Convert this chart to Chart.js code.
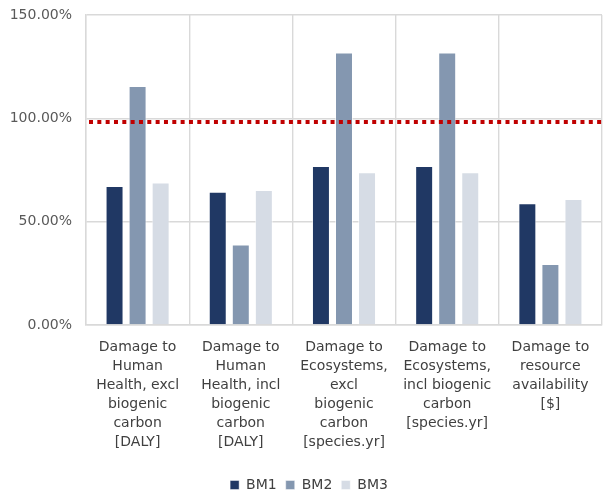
<!DOCTYPE html>
<html>
<head>
<meta charset="utf-8">
<script src="https://cdn.jsdelivr.net/npm/chart.js@4/dist/chart.umd.min.js"></script>
<style>
  html, body { margin: 0; padding: 0; background: #ffffff; }
  #wrap { width: 603px; height: 493px; position: relative; }
</style>
</head>
<body>
<div id="wrap"><canvas id="chart"></canvas></div>
<script>
// Impact categories (multi-line axis labels)
const categories = [
  ["Damage to", "Human", "Health, excl", "biogenic", "carbon", "[DALY]"],
  ["Damage to", "Human", "Health, incl", "biogenic", "carbon", "[DALY]"],
  ["Damage to", "Ecosystems,", "excl", "biogenic", "carbon", "[species.yr]"],
  ["Damage to", "Ecosystems,", "incl biogenic", "carbon", "[species.yr]"],
  ["Damage to", "resource", "availability", "[$]"]
];

// Relative scores in percent
const bm1 = [67.2, 64.5, 76.9, 76.9, 58.9];
const bm2 = [115.6, 39.0, 131.9, 131.9, 29.5];
const bm3 = [68.9, 65.3, 73.9, 73.9, 61.0];

// Reference level, drawn as a dotted line across the whole plot
const referenceLevel = 98.2;

// Value axis ticks
const yTicks = [0, 50, 100, 150];

const seriesNames = ["BM1", "BM2", "BM3"];
const seriesColors = ["#203864", "#8497b0", "#d6dce5"];

const FONT = "'DejaVu Sans', sans-serif";
const GRID = "#d9d9d9";

// Horizontal dotted reference line positioned with the y scale
const referenceLinePlugin = {
  id: "referenceLine",
  afterDatasetsDraw(chart) {
    const { ctx, chartArea, scales } = chart;
    const y = scales.y.getPixelForValue(referenceLevel);
    ctx.save();
    ctx.strokeStyle = "#c00000";
    ctx.lineWidth = 4;
    ctx.lineCap = "butt";
    ctx.setLineDash([4, 4.33]);
    ctx.lineDashOffset = 5.33;
    ctx.beginPath();
    ctx.moveTo(chartArea.left, y);
    ctx.lineTo(chartArea.right, y);
    ctx.stroke();
    ctx.restore();
  }
};

// Nudge the legend row so it sits centred under the plot area
const legendShiftPlugin = {
  id: "legendShift",
  afterLayout(chart) {
    if (chart.legend) {
      chart.legend.left += 8;
      chart.legend.right += 8;
    }
  }
};

const barSets = [bm1, bm2, bm3].map((vals, i) => ({
  label: seriesNames[i],
  data: vals,
  backgroundColor: seriesColors[i],
  borderColor: "rgba(255,255,255,0.6)",
  borderWidth: { top: 1, left: 1, right: 1, bottom: 0 },
  categoryPercentage: 0.67,
  barPercentage: 0.78
}));

new Chart(document.getElementById("chart"), {
  type: "bar",
  data: {
    labels: categories,
    datasets: barSets
  },
  plugins: [referenceLinePlugin, legendShiftPlugin],
  options: {
    responsive: true,
    maintainAspectRatio: false,
    animation: false,
    layout: { padding: { top: 15, right: 1, left: 0, bottom: -9 } },
    plugins: {
      tooltip: { enabled: false },
      legend: {
        position: "bottom",
        labels: {
          boxWidth: 9,
          boxHeight: 9,
          padding: 9,
          color: "#404040",
          font: { family: FONT, size: 14 }
        }
      }
    },
    scales: {
      x: {
        offset: true,
        grid: { display: true, offset: true, color: GRID, lineWidth: 1.4, drawTicks: false },
        border: { display: true, color: GRID, width: 1.4 },
        ticks: {
          maxRotation: 0,
          minRotation: 0,
          autoSkip: false,
          padding: 13,
          color: "#404040",
          font: { family: FONT, size: 14, lineHeight: 1.36 }
        },
        afterFit: s => { s.height = 144; }
      },
      y: {
        min: 0,
        max: 150,
        afterBuildTicks: s => { s.ticks = yTicks.map(v => ({ value: v })); },
        grid: { color: GRID, lineWidth: 1.4, drawTicks: false },
        border: { display: true, color: GRID, width: 1.4 },
        ticks: {
          padding: 14,
          color: "#595959",
          font: { family: FONT, size: 14 },
          callback: v => v.toFixed(2) + "%"
        },
        afterFit: s => {
          s.width = 86;
          s.paddingTop = 0;
          s.paddingBottom = 0;
        }
      }
    }
  }
});
</script>
</body>
</html>
